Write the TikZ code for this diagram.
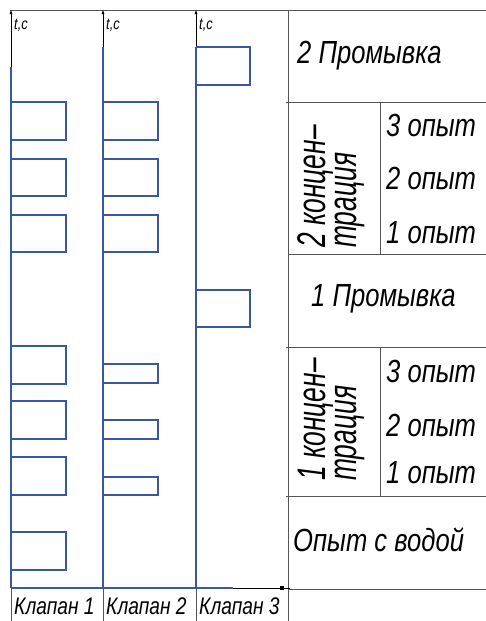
\documentclass[tikz,border=0pt]{standalone}
\usepackage{fontspec}
\setmainfont{Liberation Sans}[FakeStretch=0.8]
\newfontfamily\narrowfont{Liberation Sans}[FakeStretch=0.66]
\usetikzlibrary{arrows.meta}
\definecolor{sig}{HTML}{3A56A8}
\definecolor{grid}{HTML}{555555}
\tikzset{
  sigline/.style={draw=sig, line width=1.6pt},
  gridline/.style={draw=grid, line width=1pt},
  axisline/.style={draw=black, line width=1pt},
  big/.style={font=\fontsize{32}{32}\selectfont\itshape, inner sep=0pt, anchor=base west},
  vert/.style={font=\narrowfont\fontsize{40}{40}\selectfont\itshape, inner sep=0pt, anchor=base west, rotate=90},
  small/.style={font=\fontsize{24}{24}\selectfont\itshape, inner sep=0pt, anchor=base west},
  tiny/.style={font=\fontsize{16}{16}\selectfont\itshape, inner sep=0pt, anchor=base west},
}
\begin{document}
\begin{tikzpicture}[x=1pt,y=-1pt]
\useasboundingbox (0,0) rectangle (486,621);
% coordinates
\coordinate (a1b) at (11,588); \coordinate (a2b) at (103,588); \coordinate (a3b) at (196,588);
% grid / table lines
\draw[gridline] (10,10) -- (486,10);
\draw[gridline] (288,10) -- (288,621);
\draw[gridline] (11,588) -- (11,621);
\draw[gridline] (103,588) -- (103,621);
\draw[gridline] (196,588) -- (196,621);
\draw[gridline] (286,102) -- (486,102);
\draw[gridline] (288,254) -- (486,254);
\draw[gridline] (286,347) -- (486,347);
\draw[gridline] (286,496) -- (486,496);
\draw[gridline] (288,589) -- (486,589);
\draw[gridline] (380,102) -- (380,254);
\draw[gridline] (380,347) -- (380,496);
% bottom axis line
\draw[axisline] (11,588) -- (290,588);
\draw[sigline] (11,588) -- (233,588);
\fill (280,586) rectangle (284,590);
% axes (black upper part with arrow)
\draw[axisline,-{Latex[length=5pt,width=3pt]}] (11,67) -- (11,9);
\draw[axisline,-{Latex[length=5pt,width=3pt]}] (103,47) -- (103,9);
\draw[axisline,-{Latex[length=5pt,width=3pt]}] (196,47) -- (196,9);
\draw[sigline] (11,67) -- (a1b);
\draw[sigline] (103,47) -- (a2b);
\draw[sigline] (196,47) -- (a3b);
% labels t,c
\node[tiny] (t1) at (14,29) {t,c};
\node[tiny] (t2) at (106,29) {t,c};
\node[tiny] (t3) at (199,29) {t,c};
% Klapan 1 pulses
\foreach \ya/\yb in {102/140,159/196,215/252,346/384,401/439,457/495,532/570}
  \draw[sigline] (11,\ya) -- (66,\ya) -- (66,\yb) -- (11,\yb);
% Klapan 2 pulses
\foreach \ya/\yb in {102/140,159/196,215/252,364/383,420/439,477/495}
  \draw[sigline] (103,\ya) -- (158,\ya) -- (158,\yb) -- (103,\yb);
% Klapan 3 pulses
\foreach \ya/\yb in {47/85,290/327}
  \draw[sigline] (196,\ya) -- (250,\ya) -- (250,\yb) -- (196,\yb);
% bottom labels
\node[small] (k1) at (14,614) {Клапан 1};
\node[small] (k2) at (106,614) {Клапан 2};
\node[small] (k3) at (199,614) {Клапан 3};
% right table texts
\node[big] (p2) at (297,63) {2 Промывка};
\node[big] (e23) at (386,136) {3 опыт};
\node[big] (e22) at (386,189) {2 опыт};
\node[big] (e21) at (386,243) {1 опыт};
\node[vert] (c2a) at (325,248) {2 концен–};
\node[vert] (c2b) at (356,248) {трация};
\node[big] (p1) at (311,306) {1 Промывка};
\node[big] (e13) at (386,382) {3 опыт};
\node[big] (e12) at (386,436) {2 опыт};
\node[big] (e11) at (386,483) {1 опыт};
\node[vert] (c1a) at (325,481) {1 концен–};
\node[vert] (c1b) at (356,481) {трация};
\node[big] (w) at (293,551) {Опыт с водой};
\end{tikzpicture}
\end{document}
